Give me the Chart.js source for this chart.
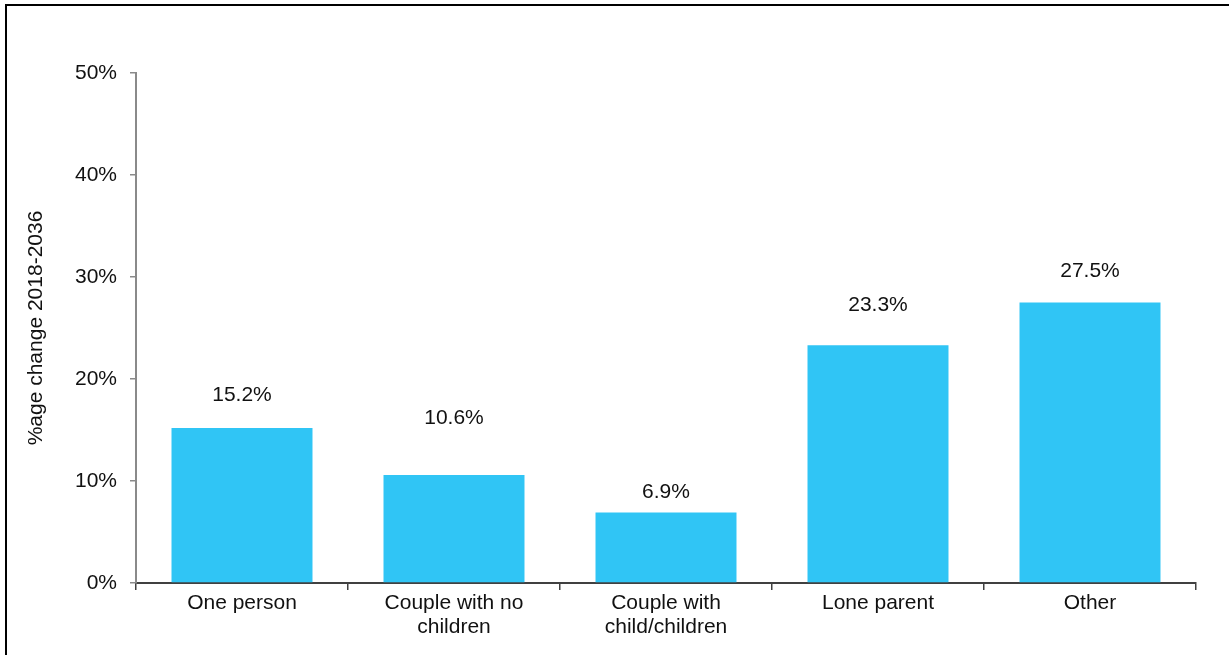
<!DOCTYPE html>
<html>
<head>
<meta charset="utf-8">
<title>Household change 2018-2036</title>
<script src="https://cdn.jsdelivr.net/npm/chart.js@4.4.1/dist/chart.umd.min.js"></script>
<style>
  html, body { margin: 0; padding: 0; background: #fff; }
  #wrap { position: relative; width: 1229px; height: 655px; }
  #frame {
    position: absolute; left: 5px; top: 4px; right: 0; bottom: 0;
    border-top: 2px solid #000; border-left: 2px solid #000;
    pointer-events: none;
  }
</style>
</head>
<body>
<div id="wrap">
  <canvas id="household-chart" width="1229" height="655"></canvas>
  <div id="frame"></div>
</div>
<script>
// household types and projected change
const categories = ["One person", ["Couple with no", "children"], ["Couple with", "child/children"], "Lone parent", "Other"];
const changePct = [15.2, 10.6, 6.9, 23.3, 27.5];
const yTicks = [0, 10, 20, 30, 40, 50];

const FONT = "'Liberation Sans', Arial, sans-serif";

// value labels above the bars, each lifted by its own amount
const valueLabels = {
  id: "valueLabels",
  afterDatasetsDraw(chart, args, opts) {
    const ctx = chart.ctx;
    const meta = chart.getDatasetMeta(0);
    ctx.save();
    ctx.font = "21px " + FONT;
    ctx.fillStyle = "#111";
    ctx.textAlign = "center";
    ctx.textBaseline = "middle";
    meta.data.forEach((bar, i) => {
      const v = chart.data.datasets[0].data[i];
      ctx.fillText(v.toFixed(1) + "%", bar.x, bar.y - opts.lift[i]);
    });
    ctx.restore();
  }
};

const ctx = document.getElementById("household-chart").getContext("2d");
new Chart(ctx, {
  type: "bar",
  data: {
    labels: categories,
    datasets: [{
      data: changePct,
      backgroundColor: "#30c5f5",
      borderWidth: 0,
      categoryPercentage: 1,
      barPercentage: 0.665
    }]
  },
  options: {
    responsive: false,
    animation: false,
    layout: { padding: { left: 20, top: 73, right: 33, bottom: 0 } },
    plugins: {
      legend: { display: false },
      tooltip: { enabled: false },
      valueLabels: { lift: [33, 57, 20, 40, 31] }
    },
    scales: {
      x: {
        afterFit: (scale) => { scale.height = 72; },
        grid: { drawOnChartArea: false, tickLength: 7, color: "#404040", lineWidth: 1.5 },
        border: { color: "#404040", width: 2 },
        ticks: {
          color: "#111",
          padding: 1,
          maxRotation: 0,
          font: { family: FONT, size: 21, lineHeight: 1.15 }
        }
      },
      y: {
        min: 0,
        max: 50,
        afterFit: (scale) => { scale.width = 116; },
        afterBuildTicks: (scale) => { scale.ticks = yTicks.map((v) => ({ value: v })); },
        grid: { drawOnChartArea: false, tickLength: 6, color: "#8a8a8a", lineWidth: 1.5 },
        border: { color: "#8a8a8a", width: 2 },
        ticks: {
          color: "#111",
          padding: 13,
          font: { family: FONT, size: 21 },
          callback: (v) => v + "%"
        },
        title: {
          display: true,
          text: "%age change 2018-2036",
          color: "#111",
          font: { family: FONT, size: 21 }
        }
      }
    }
  },
  plugins: [valueLabels]
});
</script>
</body>
</html>
